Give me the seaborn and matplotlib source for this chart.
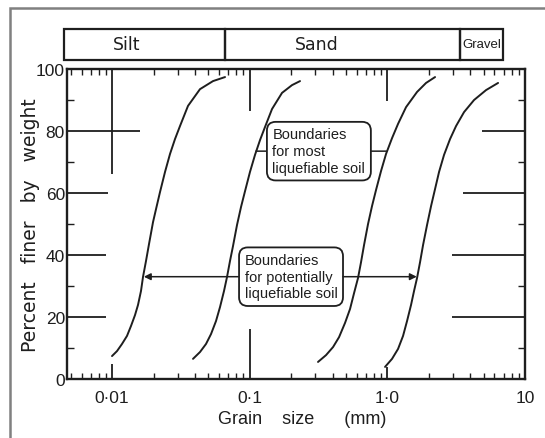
import numpy as np
import pandas as pd
import matplotlib
matplotlib.use("Agg")
import matplotlib.pyplot as plt
import seaborn as sns
from matplotlib.patches import Rectangle
from matplotlib.ticker import LogLocator, FixedLocator, NullFormatter

sns.set_theme(style="ticks")
plt.rcParams["font.family"] = ["Liberation Sans", "DejaVu Sans"]

# ---------------- data ----------------
c1_size = [0.00998, 0.010848, 0.011795, 0.012825, 0.013712, 0.014660, 0.01542, 0.01621,
           0.01676, 0.01763, 0.01853, 0.01982, 0.02084, 0.02228, 0.02423, 0.02634, 0.02863,
           0.03113, 0.03559, 0.04350, 0.05408, 0.06613]
c1_pct = [7.4, 9.0, 11.3, 13.9, 17.1, 20.6, 23.9, 28.4, 32.9, 38.1, 43.5, 50.6, 54.8, 60.3,
          66.8, 72.6, 77.4, 81.6, 88.1, 93.5, 96.1, 97.4]

c2_size = [0.03870, 0.04350, 0.04810, 0.05231, 0.05686, 0.06080, 0.06501, 0.06836, 0.07188,
           0.07558, 0.08082, 0.08642, 0.09240, 0.1004, 0.1092, 0.1188, 0.1291, 0.1452,
           0.1716, 0.2028, 0.2319]
c2_pct = [6.5, 8.7, 11.3, 14.5, 18.7, 23.2, 28.4, 32.9, 38.1, 42.9, 49.7, 55.5, 60.6, 66.8,
          72.3, 77.1, 81.3, 87.1, 92.3, 94.8, 96.1]

c3_size = [0.3133, 0.3583, 0.4029, 0.4455, 0.4925, 0.5355, 0.5726, 0.6121, 0.6436, 0.6767,
           0.7236, 0.7736, 0.8274, 0.8995, 0.9779, 1.0812, 1.1955, 1.3668, 1.6430, 1.9099,
           2.2207]
c3_pct = [5.5, 7.7, 10.3, 13.5, 18.1, 22.6, 27.7, 32.6, 37.7, 43.2, 50.0, 55.8, 61.0, 67.1,
          72.6, 77.7, 82.3, 87.7, 92.6, 95.5, 97.4]

c4_size = [0.9616, 1.0812, 1.1955, 1.2998, 1.3897, 1.4859, 1.5624, 1.6430, 1.7276, 1.8164,
           1.9424, 2.0772, 2.2207, 2.3742, 2.5809, 2.8536, 3.1550, 3.6069, 4.2649, 5.2131,
           6.3723]
c4_pct = [3.9, 6.5, 9.7, 13.9, 18.7, 23.9, 28.4, 32.6, 37.7, 43.2, 49.7, 55.8, 61.3, 66.8,
          72.3, 77.4, 81.6, 86.1, 90.0, 93.2, 95.5]

soil_classes = ["Silt", "Sand", "Gravel"]
class_bounds = [0.00447, 0.066, 3.37, 6.93]
class_label_at = [0.0128, 0.308, 4.83]

x_ticks = [0.01, 0.1, 1.0, 10]
x_ticklabels = ["0·01", "0·1", "1·0", "10"]
y_ticks = [0, 20, 40, 60, 80, 100]

most_text = "Boundaries\nfor most\nliquefiable soil"
most_at = (0.318, 73.5)
most_links = [(0.111, 73.5), (0.985, 73.5)]
pot_text = "Boundaries\nfor potentially\nliquefiable soil"
pot_at = (0.1995, 33.0)
pot_arrows = [(0.0170, 33.0), (1.635, 33.0)]

df = pd.concat([
    pd.DataFrame({"size": c1_size, "pct": c1_pct, "curve": "c1"}),
    pd.DataFrame({"size": c2_size, "pct": c2_pct, "curve": "c2"}),
    pd.DataFrame({"size": c3_size, "pct": c3_pct, "curve": "c3"}),
    pd.DataFrame({"size": c4_size, "pct": c4_pct, "curve": "c4"}),
])

# ---------------- figure ----------------
W, H = 545, 439
fig = plt.figure(figsize=(W / 100, H / 100), dpi=100)
fig.patch.set_facecolor("white")
ax = fig.add_axes([67 / W, (H - 380) / H, 458 / W, 310 / H])
ax.set_facecolor("white")
ink = "#1e1e1e"

sns.lineplot(data=df, x="size", y="pct", hue="curve", units="curve", estimator=None,
             palette=[ink] * 4, legend=False, linewidth=1.4, ax=ax, sort=False,
             solid_joinstyle="round", solid_capstyle="round")

ax.set_xscale("log")
ax.set_xlim(0.0047, 10)
ax.set_ylim(0, 100)
for s in ax.spines.values():
    s.set_visible(True)
    s.set_linewidth(1.7)
    s.set_color(ink)

# x ticks
ax.xaxis.set_major_locator(FixedLocator(x_ticks))
ax.set_xticklabels(x_ticklabels)
ax.xaxis.set_minor_locator(LogLocator(base=10, subs=np.arange(2, 10)))
ax.xaxis.set_minor_formatter(NullFormatter())
ax.tick_params(axis="x", which="major", length=0, pad=8, labelsize=12.5, colors=ink)
ax.tick_params(axis="x", which="minor", direction="in", length=4, width=1.0,
               top=True, bottom=True, color=ink)
# y ticks
ax.yaxis.set_major_locator(FixedLocator(y_ticks))
ax.yaxis.set_minor_locator(FixedLocator([10, 30, 50, 70, 90]))
ax.tick_params(axis="y", which="major", length=0, pad=1.5, labelsize=12.5, colors=ink)
ax.tick_params(axis="y", which="minor", direction="in", length=5, width=1.0,
               left=True, right=True, color=ink)

# long reference tick lines
left_ext = {20: 0.0090, 40: 0.0090, 60: 0.00933, 80: 0.0160}
right_ext = {20: 2.95, 40: 2.95, 60: 3.55, 80: 4.88}
for yv, xe in left_ext.items():
    ax.plot([0.0047, xe], [yv, yv], color=ink, lw=1.3, solid_capstyle="butt")
for yv, xs in right_ext.items():
    ax.plot([xs, 10], [yv, yv], color=ink, lw=1.3, solid_capstyle="butt")
top_drop = {0.01: 66, 0.1: 86.5, 1.0: 89.7}
bottom_rise = {0.01: 5, 0.1: 16, 1.0: 4}
for xv, yb in top_drop.items():
    ax.plot([xv, xv], [yb, 100], color=ink, lw=1.3, solid_capstyle="butt")
for xv, yt in bottom_rise.items():
    ax.plot([xv, xv], [0, yt], color=ink, lw=1.3, solid_capstyle="butt")

ax.set_xlabel("Grain    size      (mm)", fontsize=13, color=ink, va="top")
ax.xaxis.set_label_coords(0.513, -0.100)
ax.set_ylabel("Percent   finer   by   weight", fontsize=13.5, color=ink,
              family=["DejaVu Sans"])
ax.yaxis.set_label_coords(-0.060, 0.5)

# annotation boxes
box = dict(boxstyle="round,pad=0.38,rounding_size=0.6", fc="white", ec=ink, lw=1.3)
invis = dict(boxstyle="round,pad=0.38,rounding_size=0.6", fc="none", ec="none", lw=1.3)
tkw = dict(fontsize=10.5, ha="center", va="center", multialignment="left", linespacing=1.25)

ax.annotate(most_text, xy=most_links[0], xytext=most_at, textcoords="data", color=ink,
            bbox=box, arrowprops=dict(arrowstyle="-", color=ink, lw=1.1,
                                      relpos=(0, 0.5), shrinkA=0, shrinkB=0), **tkw)
ax.annotate(most_text, xy=most_links[1], xytext=most_at, textcoords="data", color="none",
            bbox=invis, arrowprops=dict(arrowstyle="-", color=ink, lw=1.1,
                                        relpos=(1, 0.5), shrinkA=0, shrinkB=0), **tkw)
ax.annotate(pot_text, xy=pot_arrows[0], xytext=pot_at, textcoords="data", color=ink,
            bbox=box, arrowprops=dict(arrowstyle="-|>", color=ink, lw=1.1, mutation_scale=10,
                                      relpos=(0, 0.5), shrinkA=0, shrinkB=0), **tkw)
ax.annotate(pot_text, xy=pot_arrows[1], xytext=pot_at, textcoords="data", color="none",
            bbox=invis, arrowprops=dict(arrowstyle="-|>", color=ink, lw=1.1, mutation_scale=10,
                                        relpos=(1, 0.5), shrinkA=0, shrinkB=0), **tkw)

# soil class band
band = fig.add_axes([67 / W, (H - 61) / H, 458 / W, 31 / H])
band.set_xscale("log")
band.set_xlim(ax.get_xlim())
band.set_ylim(0, 1)
band.axis("off")
for i, name in enumerate(soil_classes):
    x0, x1 = class_bounds[i], class_bounds[i + 1]
    band.add_patch(Rectangle((x0, 0), x1 - x0, 1, fill=False, ec=ink, lw=1.6, clip_on=False))
    if name == "Gravel":
        band.text(class_label_at[i], 0.5, name, ha="center", va="center", color=ink,
                  fontsize=9.5)
    else:
        band.text(class_label_at[i], 0.5, name, ha="center", va="center", color=ink,
                  fontsize=12.5, family=["DejaVu Sans"])

# outer frame of the scan
fig.patches.append(Rectangle((10 / W, -0.05), 1.2, (H - 9) / H + 0.05, transform=fig.transFigure,
                             fill=False, ec="#808080", lw=1.8))

fig.savefig("out.png", dpi=100)
